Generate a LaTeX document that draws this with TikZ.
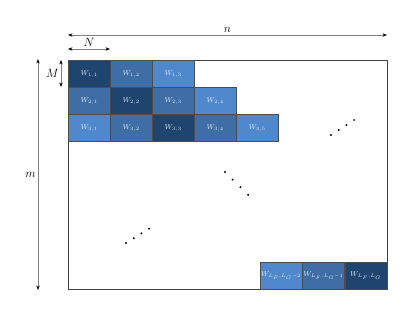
\documentclass[tikz,border=0pt]{standalone}
\usepackage{tikz}
\usepackage{amsmath}
\usetikzlibrary{arrows.meta,positioning}
\definecolor{wdark}{RGB}{31,68,110}
\definecolor{wmid}{RGB}{62,110,165}
\definecolor{wlight}{RGB}{79,136,204}

\begin{document}
\begin{tikzpicture}[x=1pt,y=-1pt,
cell/.style={draw=black!70, thin, minimum width=42pt, minimum height=27pt, inner sep=0pt, anchor=north west, text=white!85!wlight, font=\scriptsize},
dimarrow/.style={gray, semithick, {Stealth[length=4.5pt,black]}-{Stealth[length=4.5pt,black]}},
dimlabel/.style={text=black, font=\large, inner sep=2pt},
]
\useasboundingbox (0,0) rectangle (418,311);
\draw[black!75, semithick] (68,60) rectangle (387,289);
% upper band of blocks
\foreach \r/\c/\col in {1/1/wdark,1/2/wmid,1/3/wlight,
  2/1/wmid,2/2/wdark,2/3/wmid,2/4/wlight,
  3/1/wlight,3/2/wmid,3/3/wdark,3/4/wmid,3/5/wlight}
  \node[cell, fill=\col] (w\r\c) at ({68+42*(\c-1)},{60+27*(\r-1)}) {$W_{\r,\c}$};
% last blocks
\node[cell, fill=wdark, anchor=south east] (wc) at (387,289) {$W_{L_F,L_G}$};
\node[cell, fill=wmid, left=0pt of wc] (wb) {$W_{L_F,L_G-1}$};
\node[cell, fill=wlight, left=0pt of wb] (wa) {$W_{L_F,L_G-2}$};
% dimensions
\coordinate (nl) at (68,35);
\coordinate (nr) at (387,35);
\draw[dimarrow] (nl) -- node[above, dimlabel] {$n$} (nr);
\coordinate (Nl) at (68,49);
\coordinate (Nr) at (110,49);
\draw[dimarrow] (Nl) -- node[above, dimlabel] {$N$} (Nr);
\coordinate (Mt) at (61,60);
\coordinate (Mb) at (61,87);
\draw[dimarrow] (Mt) -- node[left, dimlabel] {$M$} (Mb);
\coordinate (mt) at (38,59);
\coordinate (mb) at (38,290);
\draw[dimarrow] (mt) -- node[left, dimlabel] {$m$} (mb);
% dots
\foreach \i in {0,...,3} {
  \fill ({331+7.7*\i},{135-5*\i}) circle (1.1);
  \fill ({225+7.7*\i},{172+7.6*\i}) circle (1.1);
  \fill ({126+7.7*\i},{243-4.8*\i}) circle (1.1);
}
\end{tikzpicture}
\end{document}
